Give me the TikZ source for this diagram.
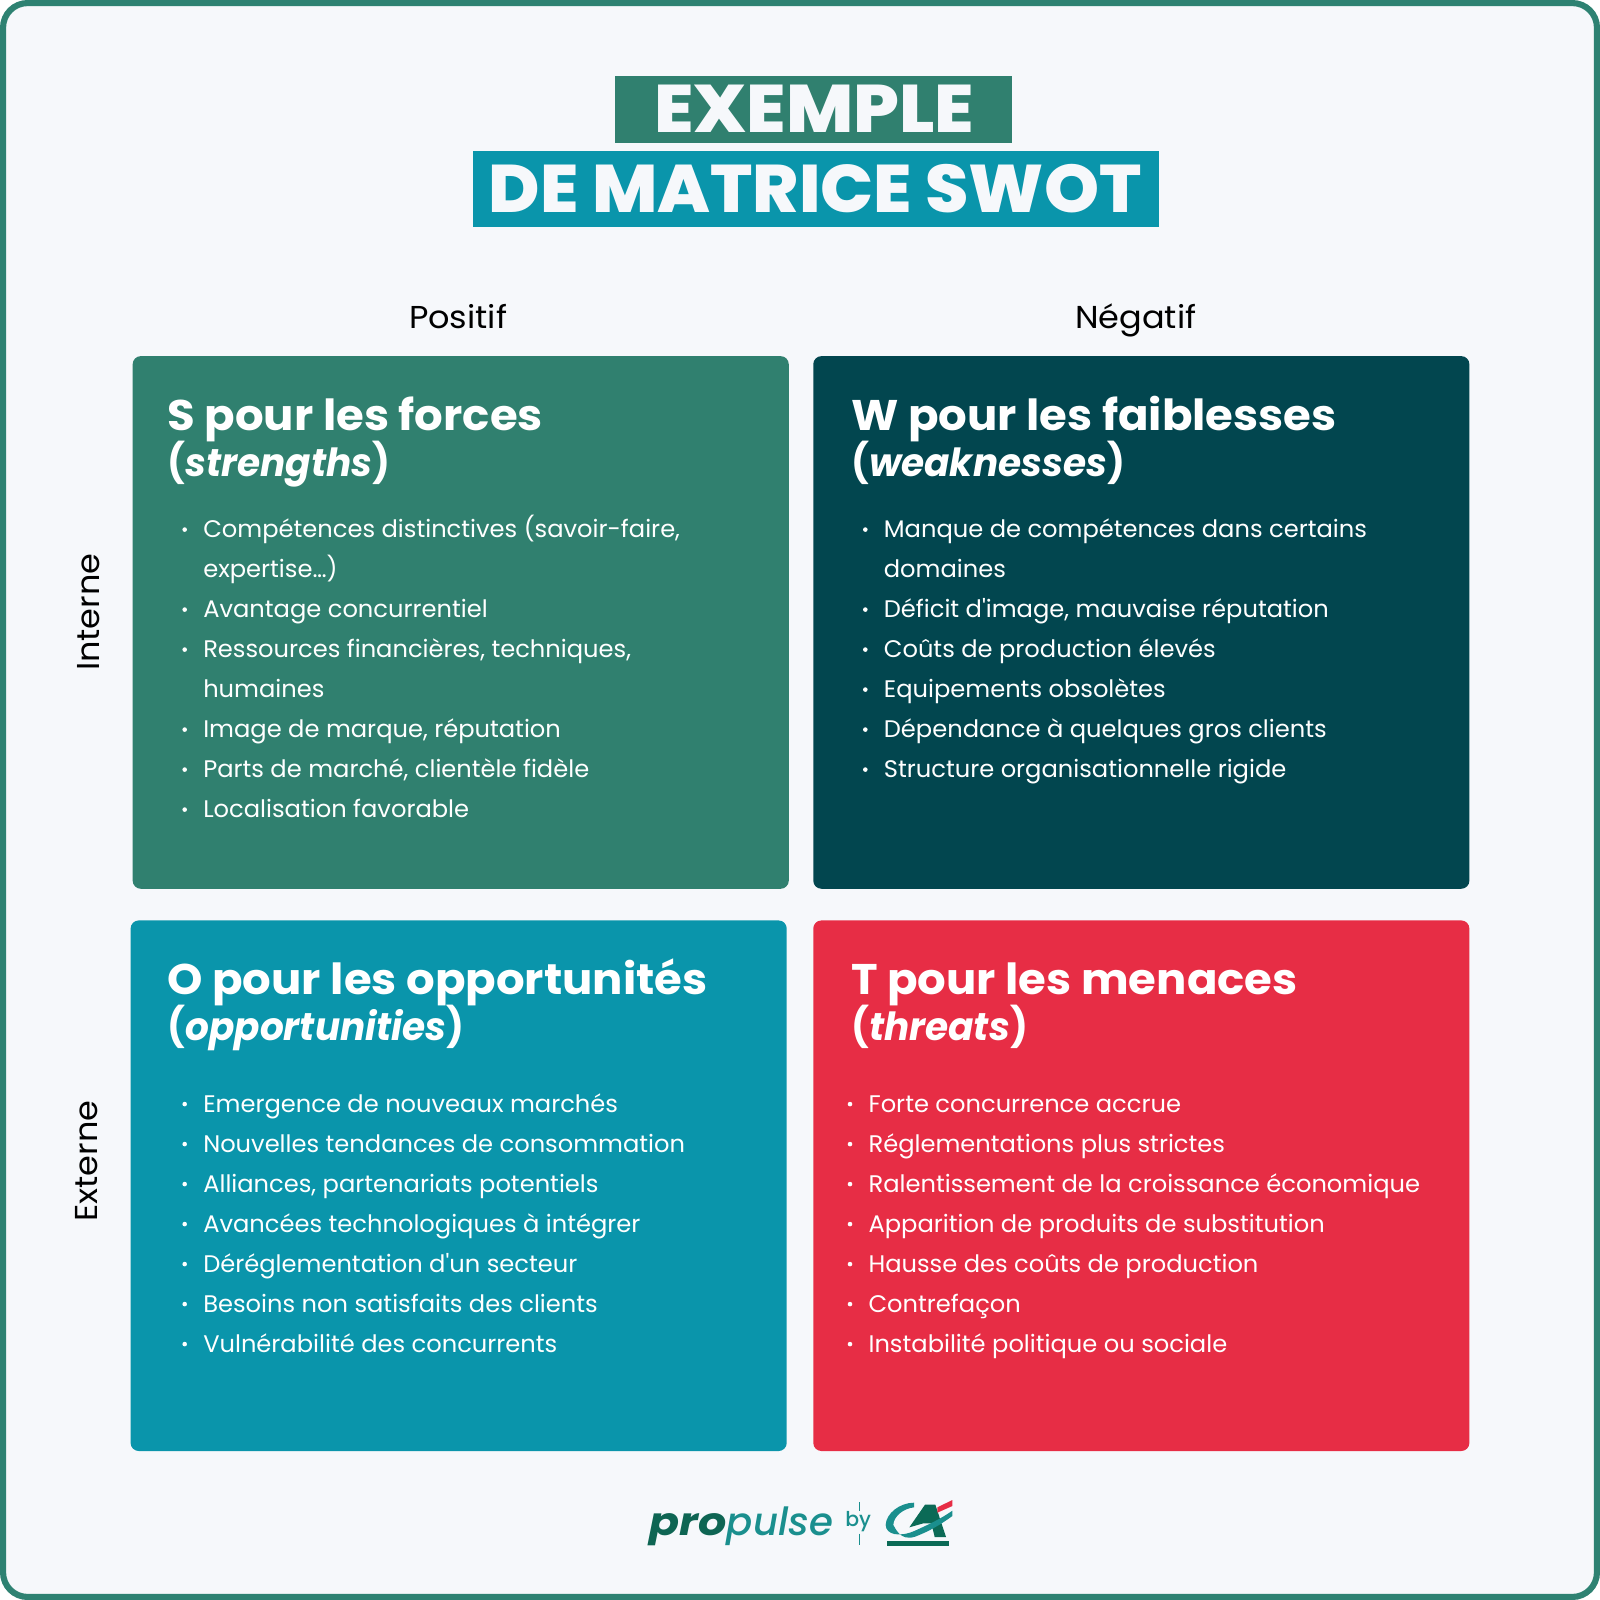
\documentclass[tikz,border=0pt]{standalone}
\usepackage{fontspec}
\setmainfont{Poppins}[FakeStretch=1.008]
\newfontfamily\axisfont{Poppins}[FakeStretch=1.06]
\newfontfamily\headfont{Poppins}[FakeStretch=1.05,UprightFont=* Bold,ItalicFont=* Bold Italic,BoldFont=* Bold,BoldItalicFont=* Bold Italic]
\newfontfamily\subfont{Poppins}[FakeStretch=0.965,UprightFont=* Bold,ItalicFont=* Bold Italic,BoldFont=* Bold,BoldItalicFont=* Bold Italic]
\newfontfamily\titlefont{Poppins}[UprightFont=* ExtraBold,BoldFont=* ExtraBold]
\newfontfamily\logomed{Poppins}[UprightFont=* Medium,ItalicFont=* Medium Italic]
\definecolor{bgc}{HTML}{F6F8FB}
\definecolor{greenc}{HTML}{30806F}
\definecolor{darkc}{HTML}{02464F}
\definecolor{tealc}{HTML}{0A95AB}
\definecolor{redc}{HTML}{E72D45}
\definecolor{framec}{HTML}{2E8272}
\definecolor{logod}{HTML}{0E6553}
\definecolor{logot}{HTML}{1A8F8E}
\definecolor{logog}{HTML}{0B6A56}
\definecolor{logor}{HTML}{E72D45}
\tikzset{
 heading/.style={anchor=base west,inner sep=0pt,text=white,font=\headfont\fontsize{42}{42}\selectfont},
 subhead/.style={anchor=base west,inner sep=0pt,text=white,font=\subfont\fontsize{38}{38}\selectfont},
 itemt/.style={anchor=base west,inner sep=0pt,text=white,font=\fontsize{23.5}{23.5}\selectfont},
 bull/.style={circle,fill=white,inner sep=0pt,minimum size=4.5pt},
 axis/.style={inner sep=0pt,text=black,font=\axisfont\fontsize{31}{31}\selectfont},
 titlet/.style={inner sep=0pt,text=bgc,font=\titlefont\fontsize{66}{66}\selectfont},
}
\newcommand{\items}[4]{%
 \foreach \t [count=\i from 0] in {#4}{
  \pgfmathsetmacro{\yy}{#3+39.2*\i}
  \node[itemt] (n#1\i) at (#2,\yy) {\t};
 }
}
\begin{document}
\begin{tikzpicture}[x=1pt,y=-1pt]
\useasboundingbox (0,0) rectangle (1568,1568);
\fill[white] (0,0) rectangle (1568,1568);
\draw[framec,line width=6pt,fill=bgc,rounded corners=24pt] (3,3) rectangle (1565,1565);
% title
\fill[greenc] (603,74) rectangle (992,140);
\fill[tealc] (464,148) rectangle (1136,222);
\node[titlet] (t1) at (798,107) {\scalebox{1.07}[1]{EXEMPLE}};
\node[titlet] (t2) at (799,185) {\scalebox{1.04}[1]{DE MATRICE SWOT}};
\node[axis,anchor=base] (pos) at (449,322) {Positif};
\node[axis,anchor=base] (neg) at (1113,322) {Négatif};
\node[axis,rotate=90] (int) at (87,600) {Interne};
\node[axis,rotate=90] (ext) at (85,1138) {Externe};
% quadrants
\fill[greenc,rounded corners=8pt] (130,349) rectangle (773,871);
\fill[darkc,rounded corners=8pt] (797,349) rectangle (1440,871);
\fill[tealc,rounded corners=8pt] (128,902) rectangle (771,1422);
\fill[redc,rounded corners=8pt] (797,902) rectangle (1440,1422);
\node[heading] (h1a) at (164,422) {S pour les forces};
\node[subhead] (h1b) at (164,467) {(\textit{strengths})};
\node[heading] (h2a) at (834,422) {W pour les faiblesses};
\node[subhead] (h2b) at (834,467) {(\textit{weaknesses})};
\node[heading] (h3a) at (164,975) {O pour les opportunités};
\node[subhead] (h3b) at (164,1020) {(\textit{opportunities})};
\node[heading] (h4a) at (834,975) {T pour les menaces};
\node[subhead] (h4b) at (834,1020) {(\textit{threats})};
\foreach \y in {0,2,3,5,6,7}{\node[bull] at (181,{519+39.2*\y}) {};}
\foreach \y in {0,2,3,4,5,6}{\node[bull] at (848,{519+39.2*\y}) {};}
\foreach \y in {0,1,2,3,4,5,6}{\node[bull] at (181,{1082+39.2*\y}) {}; \node[bull] at (833,{1082+39.2*\y}) {};}
\items{a}{199}{527}{{Compétences distinctives (savoir-faire,},{expertise…)},{Avantage concurrentiel},{Ressources financières, techniques,},{humaines},{Image de marque, réputation},{Parts de marché, clientèle fidèle},{Localisation favorable}}
\items{b}{866}{527}{{Manque de compétences dans certains},{domaines},{Déficit d\textquotesingle image, mauvaise réputation},{Coûts de production élevés},{Equipements obsolètes},{Dépendance à quelques gros clients},{Structure organisationnelle rigide}}
\items{c}{199}{1090}{{Emergence de nouveaux marchés},{Nouvelles tendances de consommation},{Alliances, partenariats potentiels},{Avancées technologiques à intégrer},{Déréglementation d\textquotesingle un secteur},{Besoins non satisfaits des clients},{Vulnérabilité des concurrents}}
\items{d}{851}{1090}{{Forte concurrence accrue},{Réglementations plus strictes},{Ralentissement de la croissance économique},{Apparition de produits de substitution},{Hausse des coûts de production},{Contrefaçon},{Instabilité politique ou sociale}}
% logo
\node[anchor=base west,inner sep=0pt,text=logod,font=\headfont\fontsize{38}{38}\selectfont\itshape] (lg1) at (636,1505) {\scalebox{1.09}[1]{pro}};
\node[anchor=base west,inner sep=0pt,text=logot,font=\logomed\fontsize{38}{38}\selectfont\itshape] (lg2) at (lg1.base east) {pulse};
\node[anchor=center,inner sep=0pt,text=logot,font=\logomed\fontsize{20}{20}\selectfont] (by) at (841,1491) {by};
\draw[logot,line width=1pt] (842,1472) -- (842,1481) (842,1503) -- (842,1514);
\begin{scope}[shift={(842.8,1460.2)},x=0.3267pt,y=-0.3267pt]
\fill[logog] (82,152) rectangle (268,167);
\fill[logog] (148,112) -- (195,44) -- (226,44) -- (258,141) -- (224,141) -- (214,100) -- (190,100) -- cycle;
\fill[logor] (232,52) -- (277,30) -- (277,48) -- (232,68) -- cycle;
\fill[logot] (162,38) .. controls (120,38) and (78,70) .. (77,105) .. controls (78,135) and (120,142) .. (165,122) .. controls (205,104) and (245,85) .. (277,62) -- (277,78) .. controls (240,105) and (205,125) .. (165,140) .. controls (120,155) and (105,112) .. (100,105) .. controls (100,80) and (130,55) .. (162,52) -- cycle;
\end{scope}
\end{tikzpicture}
\end{document}
